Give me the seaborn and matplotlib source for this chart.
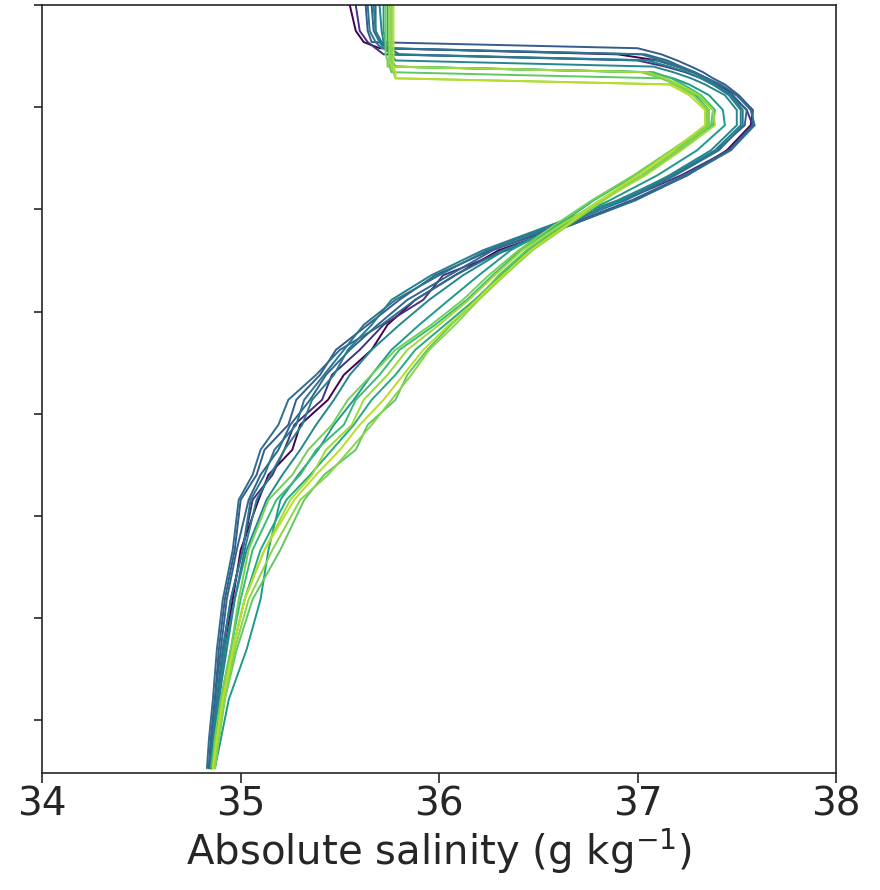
import numpy as np
import pandas as pd
import matplotlib
matplotlib.use("Agg")
import matplotlib.pyplot as plt
import seaborn as sns

# depth levels (m), shared by every profile
depth = [0, 50, 72, 84, 96, 108, 120, 131, 143, 155, 176, 205, 235, 284, 333, 382,
         431, 480, 529, 577, 626, 675, 724, 773, 822, 871, 920, 969, 1067, 1164,
         1262, 1360, 1438, 1495]

# absolute salinity (g/kg) of each profile, oldest first
sal_00 = [35.55, 35.58, 35.62, 35.70, 36.90, 37.10, 37.20, 37.28, 37.35, 37.40, 37.50, 37.58, 37.57, 37.45, 37.25,
          36.98, 36.66, 36.30, 36.08, 35.88, 35.74, 35.66, 35.52, 35.44, 35.30, 35.26, 35.14, 35.09, 35.00, 34.96, 34.92, 34.89, 34.86, 34.85]
sal_01 = [35.58, 35.60, 35.64, 35.68, 35.72, 37.00, 37.14, 37.24, 37.32, 37.38, 37.47, 37.55, 37.58, 37.46, 37.22,
          36.93, 36.62, 36.34, 36.02, 35.92, 35.72, 35.60, 35.46, 35.41, 35.27, 35.22, 35.16, 35.06, 35.01, 34.95, 34.91, 34.88, 34.86, 34.85]
sal_02 = [35.63, 35.64, 35.66, 37.00, 37.12, 37.20, 37.27, 37.33, 37.38, 37.44, 37.51, 37.58, 37.58, 37.46, 37.24,
          36.97, 36.64, 36.26, 35.98, 35.80, 35.64, 35.48, 35.40, 35.28, 35.24, 35.12, 35.08, 35.00, 34.97, 34.92, 34.89, 34.87, 34.85, 34.84]
sal_03 = [35.66, 35.67, 35.70, 35.74, 37.04, 37.15, 37.22, 37.29, 37.35, 37.40, 37.48, 37.55, 37.54, 37.40, 37.18,
          36.92, 36.60, 36.27, 36.05, 35.84, 35.69, 35.55, 35.43, 35.35, 35.25, 35.19, 35.10, 35.04, 34.98, 34.93, 34.90, 34.87, 34.85, 34.84]
sal_04 = [35.68, 35.68, 35.71, 35.75, 35.80, 37.10, 37.20, 37.28, 37.35, 37.42, 37.50, 37.57, 37.59, 37.47, 37.25,
          36.99, 36.66, 36.32, 36.08, 35.88, 35.71, 35.50, 35.38, 35.24, 35.19, 35.10, 35.06, 34.99, 34.96, 34.91, 34.88, 34.86, 34.84, 34.83]
sal_05 = [35.64, 35.65, 35.68, 35.71, 37.02, 37.12, 37.21, 37.28, 37.34, 37.39, 37.47, 37.53, 37.53, 37.41, 37.19,
          36.94, 36.58, 36.24, 36.00, 35.78, 35.62, 35.52, 35.42, 35.32, 35.28, 35.17, 35.12, 35.05, 35.01, 34.95, 34.91, 34.88, 34.86, 34.85]
sal_06 = [35.67, 35.68, 35.70, 35.72, 35.76, 37.05, 37.16, 37.25, 37.32, 37.38, 37.46, 37.52, 37.52, 37.39, 37.17,
          36.90, 36.56, 36.22, 35.96, 35.76, 35.66, 35.54, 35.47, 35.36, 35.31, 35.22, 35.15, 35.08, 35.02, 34.97, 34.93, 34.89, 34.86, 34.85]
sal_07 = [35.70, 35.71, 35.72, 35.74, 35.76, 35.78, 37.08, 37.18, 37.27, 37.34, 37.44, 37.50, 37.50, 37.37, 37.16,
          36.92, 36.62, 36.33, 36.12, 35.95, 35.80, 35.66, 35.55, 35.47, 35.38, 35.30, 35.21, 35.13, 35.03, 34.97, 34.92, 34.89, 34.87, 34.85]
sal_08 = [35.72, 35.72, 35.73, 35.74, 35.75, 35.76, 35.78, 37.06, 37.18, 37.26, 37.36, 37.43, 37.44, 37.30, 37.10,
          36.86, 36.60, 36.36, 36.20, 36.05, 35.90, 35.76, 35.66, 35.57, 35.47, 35.39, 35.29, 35.20, 35.14, 35.10, 35.03, 34.94, 34.90, 34.87]
sal_09 = [35.74, 35.74, 35.74, 35.75, 35.75, 35.75, 35.76, 37.04, 37.13, 37.20, 37.29, 37.36, 37.36, 37.20, 37.02,
          36.82, 36.63, 36.45, 36.31, 36.18, 36.03, 35.88, 35.78, 35.66, 35.57, 35.46, 35.35, 35.23, 35.10, 35.02, 34.96, 34.91, 34.88, 34.86]
sal_10 = [35.76, 35.76, 35.76, 35.76, 35.76, 35.76, 35.77, 37.08, 37.17, 37.23, 37.32, 37.39, 37.38, 37.18, 36.99,
          36.78, 36.60, 36.41, 36.27, 36.14, 35.98, 35.80, 35.70, 35.58, 35.52, 35.38, 35.30, 35.18, 35.06, 35.00, 34.95, 34.90, 34.87, 34.85]
sal_11 = [35.75, 35.75, 35.75, 35.75, 35.75, 35.75, 35.75, 35.76, 37.12, 37.20, 37.30, 37.38, 37.37, 37.21, 37.03,
          36.81, 36.62, 36.44, 36.30, 36.19, 36.06, 35.94, 35.84, 35.78, 35.64, 35.58, 35.42, 35.32, 35.20, 35.06, 34.98, 34.92, 34.89, 34.87]
sal_12 = [35.73, 35.73, 35.73, 35.73, 35.73, 35.74, 35.74, 37.02, 37.12, 37.19, 37.28, 37.35, 37.35, 37.17, 36.98,
          36.77, 36.58, 36.40, 36.25, 36.12, 35.96, 35.78, 35.66, 35.54, 35.46, 35.34, 35.26, 35.14, 35.04, 34.99, 34.95, 34.90, 34.87, 34.86]
sal_13 = [35.76, 35.76, 35.76, 35.76, 35.76, 35.76, 35.76, 35.77, 35.78, 37.18, 37.28, 37.36, 37.36, 37.20, 37.02,
          36.83, 36.65, 36.47, 36.33, 36.20, 36.08, 35.95, 35.86, 35.76, 35.66, 35.55, 35.44, 35.30, 35.16, 35.04, 34.97, 34.92, 34.89, 34.87]
sal_14 = [35.75, 35.75, 35.75, 35.75, 35.75, 35.75, 35.76, 37.05, 37.14, 37.21, 37.31, 37.38, 37.39, 37.22, 37.04,
          36.82, 36.61, 36.42, 36.28, 36.15, 36.00, 35.84, 35.74, 35.62, 35.56, 35.43, 35.36, 35.25, 35.12, 35.02, 34.96, 34.91, 34.88, 34.86]
sal_15 = [35.77, 35.77, 35.77, 35.77, 35.77, 35.77, 35.77, 35.78, 35.78, 37.16, 37.26, 37.34, 37.34, 37.18, 37.00,
          36.81, 36.64, 36.46, 36.32, 36.19, 36.05, 35.92, 35.82, 35.72, 35.60, 35.50, 35.38, 35.27, 35.12, 35.02, 34.96, 34.91, 34.88, 34.86]

profiles = [sal_00, sal_01, sal_02, sal_03, sal_04, sal_05, sal_06, sal_07,
            sal_08, sal_09, sal_10, sal_11, sal_12, sal_13, sal_14, sal_15]
# cast time (months since first cast), used for colour
cast_month = [0, 2, 4, 4.5, 5, 5.5, 6, 6.5, 7.5, 8.5, 9.5, 10.5, 11, 11.5, 12, 12.5]

xticks = [34, 35, 36, 37, 38]
yticks = [0, 200, 400, 600, 800, 1000, 1200, 1400]

# long table for seaborn
rows = []
for i, sal in enumerate(profiles):
    for d, s in zip(depth, sal):
        rows.append({"profile": i, "month": cast_month[i], "depth": d, "salinity": s})
df = pd.DataFrame(rows)

sns.set_style("ticks")
plt.rcParams["font.family"] = ["DejaVu Sans"]

fig = plt.figure(figsize=(8.8, 8.9), dpi=100)
ax = fig.add_axes([0.048, 0.131, 0.902, 0.863])

sns.lineplot(data=df, x="salinity", y="depth", hue="month", units="profile",
             estimator=None, sort=False, palette="viridis", hue_norm=(0, 14),
             linewidth=1.4, legend=False, ax=ax)

ax.set_xlim(34, 38)
ax.set_ylim(1505, 0)
ax.set_xticks(xticks)
ax.set_yticks(yticks)
ax.set_yticklabels([])
ax.set_ylabel("")
ax.set_xlabel("Absolute salinity (g kg$^{-1}$)", fontsize=29, labelpad=2)
ax.tick_params(axis="x", labelsize=28, length=7, width=1.2, pad=2)
ax.tick_params(axis="y", length=6, width=1.2)
for sp in ax.spines.values():
    sp.set_linewidth(1.2)

fig.savefig("out.png", dpi=100)
